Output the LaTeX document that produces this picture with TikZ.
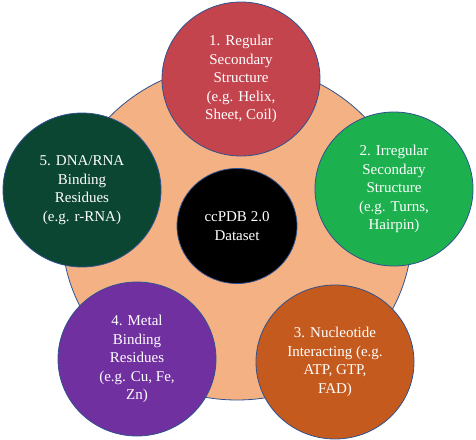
\documentclass[tikz,border=0pt]{standalone}
\usepackage{fontspec}
\setmainfont{Liberation Serif}
\usetikzlibrary{shapes.geometric}
\definecolor{peach}{HTML}{F4B183}
\definecolor{rimblue}{HTML}{2F528F}
\definecolor{regred}{HTML}{C4444E}
\definecolor{irrgreen}{HTML}{1DB04F}
\definecolor{nucorange}{HTML}{C55A1E}
\definecolor{metpurple}{HTML}{7030A0}
\definecolor{dnagreen}{HTML}{0B4633}
\tikzset{
  topic/.style={ellipse, draw=rimblue, line width=0.8pt, text=white, align=center,
    minimum width=158pt, minimum height=154pt, inner sep=0pt,
    font=\fontsize{15}{18.5}\selectfont},
}
\begin{document}
\begin{tikzpicture}[x=1pt,y=-1pt]
\useasboundingbox (0,0) rectangle (476,439);
\node[ellipse, draw=rimblue, line width=0.8pt, fill=peach, minimum width=350pt, minimum height=336pt] (base) at (237,232) {};
\node[topic, fill=black, minimum width=120pt, minimum height=115pt] (core) at (237,226) {ccPDB 2.0\\Dataset};
\node[topic, fill=regred] (regular) at (241,79) {1. Regular\\Secondary\\Structure\\(e.g. Helix,\\Sheet, Coil)};
\node[topic, fill=irrgreen] (irregular) at (394,189) {2. Irregular\\Secondary\\Structure\\(e.g. Turns,\\Hairpin)};
\node[topic, fill=nucorange] (nucleo) at (335,362) {3. Nucleotide\\Interacting (e.g.\\ATP, GTP,\\FAD)};
\node[topic, fill=metpurple] (metal) at (137,359) {4. Metal\\Binding\\Residues\\(e.g. Cu, Fe,\\Zn)};
\node[topic, fill=dnagreen] (dna) at (82,190) {5. DNA/RNA\\Binding\\Residues\\(e.g. r-RNA)};
\end{tikzpicture}
\end{document}
